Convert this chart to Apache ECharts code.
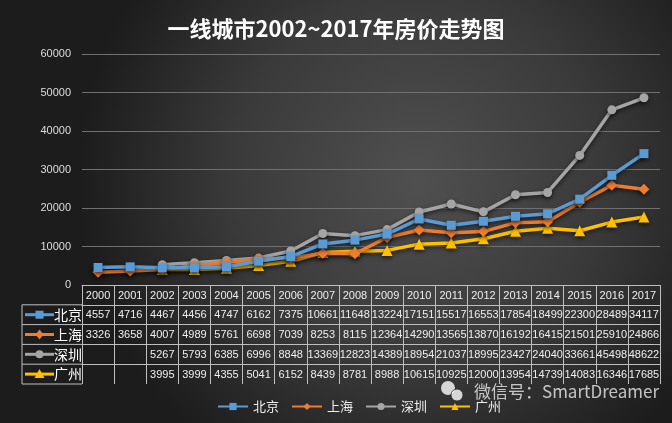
<!DOCTYPE html>
<html><head><meta charset="utf-8">
<script src="https://cdn.jsdelivr.net/npm/echarts@6/dist/echarts.min.js"></script>
<style>html,body{margin:0;padding:0;background:#2a2a2a}#c{width:672px;height:423px}</style>
</head><body><div id="c"></div>
<script>
var title = '一线城市2002~2017年房价走势图';
var years = ['2000','2001','2002','2003','2004','2005','2006','2007','2008','2009','2010','2011','2012','2013','2014','2015','2016','2017'];
var cities = ['北京','上海','深圳','广州'];
var beijing = [4557,4716,4467,4456,4747,6162,7375,10661,11648,13224,17151,15517,16553,17854,18499,22300,28489,34117];
var shanghai = [3326,3658,4007,4989,5761,6698,7039,8253,8115,12364,14290,13565,13870,16192,16415,21501,25910,24866];
var shenzhen = [null,null,5267,5793,6385,6996,8848,13369,12823,14389,18954,21037,18995,23427,24040,33661,45498,48622];
var guangzhou = [null,null,3995,3999,4355,5041,6152,8439,8781,8988,10615,10925,12000,13954,14739,14083,16346,17685];
var yTicks = [0,10000,20000,30000,40000,50000,60000];
var watermark = '微信号：SmartDreamer';

var seriesData = [beijing, shanghai, shenzhen, guangzhou];
var colors = ['#5b9bd5','#ed7d31','#a5a5a5','#ffc000'];
var symbols = ['rect','diamond','circle','triangle'];
var GL = 82, GR = 660, GT = 54, GB = 285, ROW = 19.8;
var tableFont = '"Liberation Sans",Arial,sans-serif';

var chart = echarts.init(document.getElementById('c'));

var xAxes = [{
  type: 'category', data: years, gridIndex: 0, position: 'bottom', boundaryGap: true,
  axisLine: {show: true, lineStyle: {color: '#bfbfbf', width: 1}},
  axisTick: {show: true, length: ROW * 5, lineStyle: {color: '#bfbfbf', width: 1}},
  axisLabel: {color: '#eeeeee', fontSize: 11, margin: 5, fontFamily: tableFont, interval: 0}
}];
seriesData.forEach(function (arr, i) {
  xAxes.push({
    type: 'category', gridIndex: 0, position: 'bottom', offset: ROW * (i + 1),
    data: arr.map(function (v) { return v == null ? '' : String(v); }),
    axisLine: {show: true, lineStyle: {color: '#bfbfbf', width: 1}},
    axisTick: {show: false},
    axisLabel: {color: '#eeeeee', fontSize: 11, margin: 5, fontFamily: tableFont, interval: 0}
  });
});

var series = cities.map(function (name, i) {
  return {
    name: name, type: 'line', xAxisIndex: 0, yAxisIndex: 0,
    data: seriesData[i], symbol: symbols[i],
    symbolSize: i === 1 ? 11 : (i === 3 ? 11 : 9),
    connectNulls: false,
    itemStyle: {color: colors[i], shadowBlur: 4, shadowColor: 'rgba(0,0,0,0.6)', shadowOffsetY: 2},
    lineStyle: {color: colors[i], width: 3.5, shadowBlur: 4, shadowColor: 'rgba(0,0,0,0.6)', shadowOffsetY: 2},
    z: 3 + (3 - i)
  };
});

// left column of the data table
var graphics = [];
var ltop = GB + ROW;
for (var r = 0; r <= 4; r++) {
  graphics.push({type: 'line', shape: {x1: 22, y1: ltop + r * ROW, x2: GL, y2: ltop + r * ROW},
    style: {stroke: '#bfbfbf', lineWidth: 1}});
}
graphics.push({type: 'line', shape: {x1: 22, y1: ltop, x2: 22, y2: ltop + 4 * ROW}, style: {stroke: '#bfbfbf', lineWidth: 1}});
var markerShapes = [
  function (cx, cy, c) { return {type: 'rect', shape: {x: cx - 4, y: cy - 4, width: 8, height: 8}, style: {fill: c}}; },
  function (cx, cy, c) { return {type: 'polygon', shape: {points: [[cx, cy - 5], [cx + 4, cy], [cx, cy + 5], [cx - 4, cy]]}, style: {fill: c}}; },
  function (cx, cy, c) { return {type: 'circle', shape: {cx: cx, cy: cy, r: 4}, style: {fill: c}}; },
  function (cx, cy, c) { return {type: 'polygon', shape: {points: [[cx, cy - 5], [cx + 5, cy + 4], [cx - 5, cy + 4]]}, style: {fill: c}}; }
];
cities.forEach(function (name, i) {
  var cy = ltop + i * ROW + ROW / 2;
  graphics.push({type: 'line', shape: {x1: 25, y1: cy, x2: 54, y2: cy}, style: {stroke: colors[i], lineWidth: 3}});
  graphics.push(markerShapes[i](39.5, cy, colors[i]));
  graphics.push({type: 'text', x: 54, y: cy, style: {text: name, fill: '#ffffff', fontSize: 14,
    fontFamily: '"Noto Sans CJK SC",sans-serif', verticalAlign: 'middle', align: 'left'}});
});
// watermark
graphics.push({type: 'circle', shape: {cx: 448, cy: 388, r: 7}, style: {fill: 'rgba(255,255,255,0.8)'}});
graphics.push({type: 'circle', shape: {cx: 457, cy: 395, r: 6}, style: {fill: 'rgba(255,255,255,0.8)', stroke: 'rgba(40,40,40,0.8)', lineWidth: 1}});
graphics.push({type: 'text', x: 474, y: 392, style: {text: watermark, fill: 'rgba(255,255,255,0.72)', fontSize: 17,
  fontFamily: '"Noto Sans CJK SC",sans-serif', verticalAlign: 'middle'}});

chart.setOption({
  backgroundColor: {type: 'radial', x: 0.62, y: 0.42, r: 0.8,
    colorStops: [{offset: 0, color: '#505050'}, {offset: 0.55, color: '#3a3a3a'}, {offset: 1, color: '#1c1c1c'}]},
  animation: false,
  title: {text: title, left: 'center', top: 13,
    textStyle: {color: '#ffffff', fontSize: 22, fontWeight: 'bold', fontFamily: '"Noto Sans CJK SC",sans-serif'}},
  legend: {data: cities, left: 212, top: 395, itemWidth: 30, itemHeight: 9, itemGap: 12,
    textStyle: {color: '#eeeeee', fontSize: 13, fontFamily: '"Noto Sans CJK SC",sans-serif'}},
  grid: {left: GL, right: 672 - GR, top: GT, bottom: 423 - GB, containLabel: false},
  xAxis: xAxes,
  yAxis: {type: 'value', min: yTicks[0], max: yTicks[yTicks.length - 1], interval: yTicks[1] - yTicks[0],
    axisLine: {show: false}, axisTick: {show: false},
    axisLabel: {color: '#dddddd', fontSize: 11, margin: 11, fontFamily: '"Liberation Sans",sans-serif',
      formatter: function (v) { return String(v); }},
    splitLine: {lineStyle: {color: '#707070', width: 1}}},
  series: series,
  graphic: graphics
});
</script></body></html>
